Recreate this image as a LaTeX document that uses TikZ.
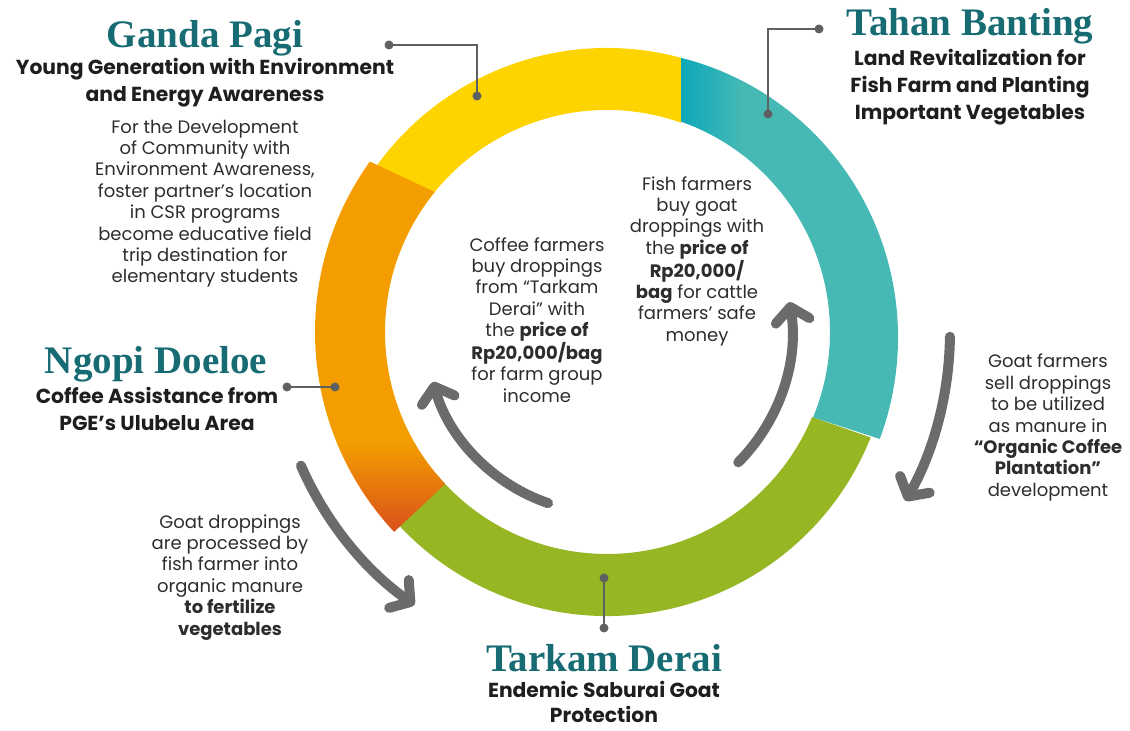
\documentclass[tikz,border=0pt]{standalone}
\usepackage{fontspec}
\setmainfont{Poppins}
\newfontfamily\titlefont{Liberation Serif}
\usetikzlibrary{arrows.meta,calc}
\definecolor{yel}{RGB}{253,211,0}
\definecolor{orgY}{RGB}{243,157,0}
\definecolor{orgR}{RGB}{217,80,26}
\definecolor{grn}{RGB}{151,182,36}
\definecolor{tealA}{RGB}{13,168,185}
\definecolor{tealB}{RGB}{70,185,181}
\definecolor{ttlc}{RGB}{23,107,115}
\definecolor{arrc}{RGB}{106,107,107}
\definecolor{dotc}{RGB}{95,96,98}
\definecolor{txt}{RGB}{30,30,28}
\definecolor{bodyc}{RGB}{45,45,45}
\pgfdeclarehorizontalshading{tealgrad}{100bp}{color(0bp)=(tealA); color(25bp)=(tealA); color(39bp)=(tealB); color(100bp)=(tealB)}
\pgfdeclareverticalshading{orggrad}{100bp}{color(0bp)=(orgR); color(25bp)=(orgR); color(37bp)=(orgY); color(100bp)=(orgY)}
\begin{document}
\begin{tikzpicture}[x=1pt,y=1pt,
  ttl/.style={font=\titlefont\bfseries\fontsize{39}{44}\selectfont, text=ttlc, inner sep=0pt},
  sub/.style={font=\bfseries\fontsize{20.3}{27}\selectfont, align=center, inner sep=0pt, text=txt, execute at begin node=\strut, execute at end node=\strut},
  body/.style={font=\fontsize{18}{21.4}\selectfont, align=center, inner sep=0pt, text=bodyc, execute at begin node=\strut, execute at end node=\strut},
  dot/.style={circle, fill=dotc, inner sep=0pt, minimum size=9pt},
  conn/.style={draw=dotc, line width=2.2pt},
  arr/.style={draw=arrc, line width=10pt, line cap=round, -{Straight Barb[length=14pt,width=34pt,round]}}
]
\useasboundingbox (0,0) rectangle (1130,731);
\coordinate (C) at (607,399);
\begin{scope}[shift={(C)}]
  \fill[yel] (74.8:284) arc[start angle=74.8,end angle=160,radius=284] -- (160:222) arc[start angle=160,end angle=70.5,radius=222] -- cycle;
  \fill[grn] (-21.8:284) arc[start angle=-21.8,end angle=-140,radius=284] -- (-140:222) arc[start angle=-140,end angle=-22.5,radius=222] -- cycle;
  \shade[shading=orggrad] (144.3:292) arc[start angle=144.3,end angle=223.2,radius=292] -- (223.2:222) arc[start angle=223.2,end angle=140.9,radius=222] -- cycle;
  \shade[shading=tealgrad] plot[domain=74.8:-21.4,samples=60,variable=\t] ({\t}:{284+(74.8-\t)*0.0936}) -- (-22.5:223) arc[start angle=-22.5,end angle=70.5,radius=223] -- cycle;
  % cycle arrows
  \draw[arr] (251:181) arc[start angle=251,end angle=196,radius=181];
  \draw[arr] (-44.8:185) arc[start angle=-44.8,end angle=9.3,radius=185];
  \draw[arr] (203.6:334) arc[start angle=203.6,end angle=234.8,radius=334];
  \draw[arr] (-0.8:343) arc[start angle=-0.8,end angle=-29.5,radius=343];
\end{scope}

% titles
\node[ttl, anchor=base] (gandaT) at (205,683) {Ganda Pagi};
\node[ttl, anchor=base] (tahanT) at (970,695) {Tahan Banting};
\node[ttl, anchor=base] (ngopiT) at (156,357) {Ngopi Doeloe};
\node[ttl, anchor=base] (tarkamT) at (604,59) {Tarkam Derai};

% subtitles
\node[sub] (gandaS) at (205,647.5) {Young Generation with Environment\\and Energy Awareness};
\node[sub] (tahanS) at (970,643) {Land Revitalization for\\Fish Farm and Planting\\Important Vegetables};
\node[sub] (ngopiS) at (157,318.5) {Coffee Assistance from\\PGE’s Ulubelu Area};
\node[sub, font=\bfseries\fontsize{20.3}{25}\selectfont] (tarkamS) at (604,25.5) {Endemic Saburai Goat\\Protection};

% body texts
\node[body] (gandaB) at (205,526.5) {For the Development\\of Community with\\Environment Awareness,\\foster partner’s location\\in CSR programs\\become educative field\\trip destination for\\elementary students};
\node[body] (coffeeB) at (537,408) {Coffee farmers\\buy droppings\\from “Tarkam\\Derai” with\\the \textbf{price of}\\\textbf{Rp20,000/bag}\\for farm group\\income};
\node[body] (fishB) at (697,469) {Fish farmers\\buy goat\\droppings with\\the \textbf{price of}\\\textbf{Rp20,000/}\\\textbf{bag} for cattle\\farmers’ safe\\money};
\node[body] (goatB) at (230,153) {Goat droppings\\are processed by\\fish farmer into\\organic manure\\\textbf{to fertilize}\\\textbf{vegetables}};
\node[body] (sellB) at (1048,302.5) {Goat farmers\\sell droppings\\to be utilized\\as manure in\\\textbf{“Organic Coffee}\\\textbf{Plantation”}\\development};

% connectors
\node[dot] (gd1) at (389,686) {};
\node[dot] (gd2) at (477,635) {};
\draw[conn] (gd1.center) -| (gd2.center);
\node[dot] (td1) at (819,702) {};
\node[dot] (td2) at (768,617) {};
\draw[conn] (td1.center) -| (td2.center);
\node[dot] (nd1) at (287,344) {};
\node[dot] (nd2) at (335,344) {};
\draw[conn] (nd1.center) -- (nd2.center);
\node[dot] (kd1) at (604,153) {};
\node[dot] (kd2) at (604,103) {};
\draw[conn] (kd1.center) -- (kd2.center);
\end{tikzpicture}
\end{document}
